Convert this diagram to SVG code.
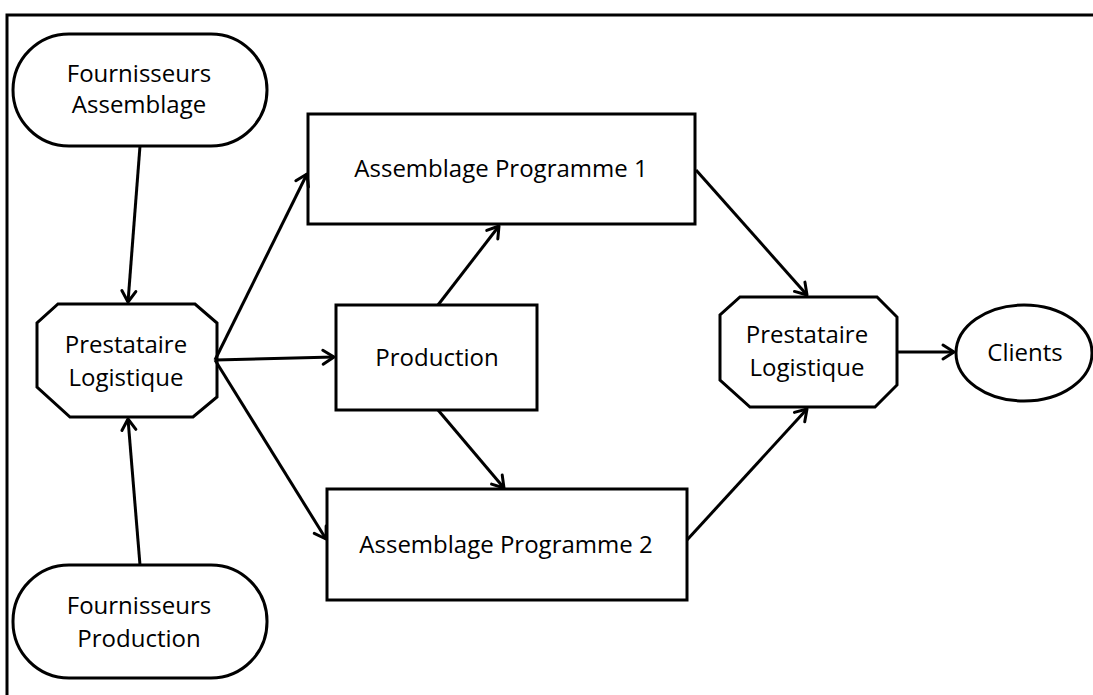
<svg xmlns="http://www.w3.org/2000/svg" width="1093" height="695" viewBox="0 0 1093 695">
  <defs>
    <style>
      .shape { fill: #ffffff; stroke: #000000; stroke-width: 3; }
      .conn { fill: none; stroke: #000000; stroke-width: 3; marker-end: url(#arrow); }
      .lbl { font-family: "Open Sans", "Liberation Sans", sans-serif; font-size: 24px; fill: #000000; text-anchor: middle; }
    </style>
    <marker id="arrow" markerUnits="userSpaceOnUse" viewBox="0 0 14 16" refX="12" refY="8" markerWidth="14" markerHeight="16" orient="auto" overflow="visible">
      <path d="M1,1 L12,8 L1,15" fill="none" stroke="#000000" stroke-width="3" stroke-linecap="round" stroke-linejoin="round"/>
    </marker>
  </defs>
  <rect width="1093" height="695" fill="#ffffff"/>
  <path d="M7,700 L7,15 L1100,15" fill="none" stroke="#000000" stroke-width="3"/>

  <g id="fournisseurs-assemblage">
    <rect class="shape" x="13" y="34" width="254" height="112" rx="56" ry="56"/>
    <text class="lbl" x="139" y="82">Fournisseurs</text>
    <text class="lbl" x="139" y="113">Assemblage</text>
  </g>
  <g id="fournisseurs-production">
    <rect class="shape" x="13" y="565" width="254" height="113" rx="56" ry="56"/>
    <text class="lbl" x="139" y="614">Fournisseurs</text>
    <text class="lbl" x="139" y="647">Production</text>
  </g>
  <g id="prestataire-gauche">
    <polygon class="shape" points="58,304 195,304 217,323 217,397 193,417 70,417 37,387 37,323"/>
    <text class="lbl" x="126" y="353">Prestataire</text>
    <text class="lbl" x="126" y="386">Logistique</text>
  </g>
  <g id="assemblage-programme-1">
    <rect class="shape" x="308" y="114" width="387" height="110"/>
    <text class="lbl" x="501" y="177">Assemblage Programme 1</text>
  </g>
  <g id="production">
    <rect class="shape" x="336" y="305" width="201" height="105"/>
    <text class="lbl" x="437" y="366">Production</text>
  </g>
  <g id="assemblage-programme-2">
    <rect class="shape" x="327" y="489" width="360" height="111"/>
    <text class="lbl" x="506" y="553">Assemblage Programme 2</text>
  </g>
  <g id="prestataire-droite">
    <polygon class="shape" points="740,297 877,297 897,317 897,385 875,407 750,407 720,380 720,315"/>
    <text class="lbl" x="807" y="343">Prestataire</text>
    <text class="lbl" x="807" y="376">Logistique</text>
  </g>
  <g id="clients">
    <ellipse class="shape" cx="1024" cy="353" rx="68" ry="48"/>
    <text class="lbl" x="1025" y="361">Clients</text>
  </g>

  <g id="connectors">
    <line class="conn" x1="140" y1="146" x2="128" y2="302"/>
    <line class="conn" x1="140" y1="565" x2="128" y2="419"/>
    <line class="conn" x1="215" y1="360" x2="307" y2="174"/>
    <line class="conn" x1="215" y1="360" x2="334" y2="357"/>
    <line class="conn" x1="215" y1="360" x2="326" y2="539"/>
    <line class="conn" x1="438" y1="305" x2="499" y2="226"/>
    <line class="conn" x1="438" y1="410" x2="504" y2="488"/>
    <line class="conn" x1="696" y1="170" x2="807" y2="295"/>
    <line class="conn" x1="687" y1="540" x2="807" y2="409"/>
    <line class="conn" x1="897" y1="352" x2="954" y2="352"/>
  </g>
</svg>
